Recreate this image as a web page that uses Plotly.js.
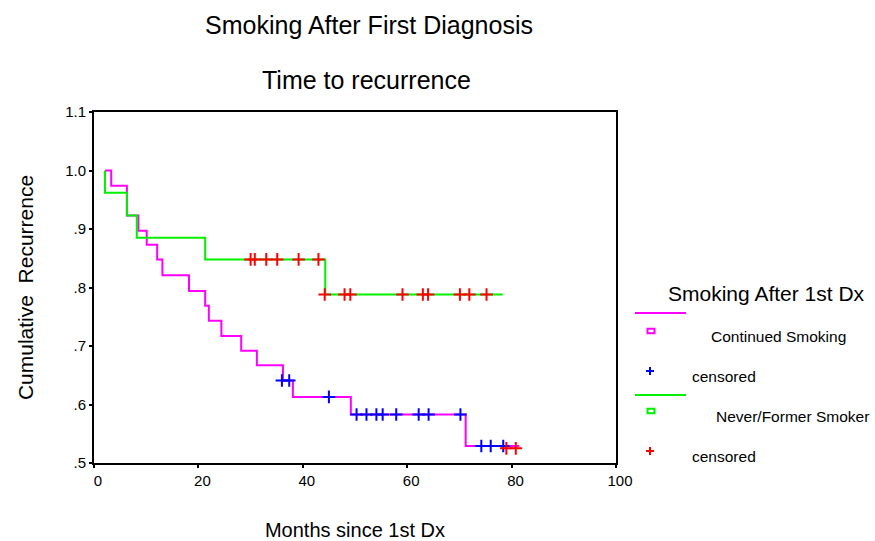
<!DOCTYPE html>
<html><head><meta charset="utf-8">
<script src="https://cdn.plot.ly/plotly-3.0.1.min.js"></script>
<style>html,body{margin:0;padding:0;background:#fff;} #chart{width:875px;height:541px;}</style>
</head><body><div id="chart"></div>
<script>
// Continued Smoking: Kaplan-Meier step curve (months, cumulative recurrence-free proportion)
const contMonths = [2.1, 3.3, 6.3, 8.5, 10.1, 12.1, 13.1, 18.2, 21.3, 22.0, 24.4, 28.2, 31.2, 36.2, 38.1, 49.2, 71.2, 81.5];
const contRecur  = [1.0, 0.974, 0.923, 0.897, 0.873, 0.848, 0.821, 0.794, 0.769, 0.743, 0.717, 0.692, 0.667, 0.641, 0.613, 0.583, 0.529, 0.529];
// Continued Smoking: censored cases
const contCensMonths = [36.0, 37.4, 45.0, 50.3, 52.2, 54.1, 55.3, 57.9, 62.2, 64.1, 70.2, 74.2, 76.0, 78.4];
const contCensRecur  = [0.641, 0.641, 0.613, 0.583, 0.583, 0.583, 0.583, 0.583, 0.583, 0.583, 0.583, 0.529, 0.529, 0.529];
// Never/Former Smoker: step curve
const neverMonths = [2.1, 2.1, 6.3, 8.2, 21.3, 44.3, 78.3];
const neverRecur  = [1.0, 0.962, 0.923, 0.885, 0.848, 0.788, 0.788];
// Never/Former Smoker: censored cases
const neverCensMonths = [30.0, 30.8, 33.0, 35.1, 39.2, 43.0, 44.2, 48.0, 49.1, 59.1, 63.0, 64.0, 70.1, 71.9, 75.2, 79.0, 80.8];
const neverCensRecur  = [0.848, 0.848, 0.848, 0.848, 0.848, 0.848, 0.788, 0.788, 0.788, 0.788, 0.788, 0.788, 0.788, 0.788, 0.788, 0.525, 0.525];

const xTickVals = [0, 20, 40, 60, 80, 100];
const xTickText = ['0', '20', '40', '60', '80', '100'];
const yTickVals = [0.5, 0.6, 0.7, 0.8, 0.9, 1.0, 1.1];
const yTickText = ['.5', '.6', '.7', '.8', '.9', '1.0', '1.1'];

const legendTitle = 'Smoking After 1st Dx';
const legendLabels = ['Continued Smoking', 'censored', 'Never/Former Smoker', 'censored'];

const MAGENTA = '#ff00ff', GREEN = '#00f000', BLUE = '#0000ff', RED = '#ff0000';
const FONT = 'Liberation Sans, Arial, sans-serif';

// plot area geometry (px)
const L = 94, T = 112, W = 522, H = 351, R = 875 - L - W, B = 541 - T - H;
const px = x => (x - L) / W;
const py = y => (T + H - y) / H;

const traces = [
  {x: contMonths, y: contRecur, mode: 'lines', line: {color: MAGENTA, width: 2, shape: 'hv'}, showlegend: false, name: 'Continued Smoking'},
  {x: neverMonths, y: neverRecur, mode: 'lines', line: {color: GREEN, width: 2, shape: 'hv'}, showlegend: false, name: 'Never/Former Smoker'},
  {x: contCensMonths, y: contCensRecur, mode: 'markers', marker: {symbol: 'cross-thin-open', size: 9, line: {color: BLUE, width: 2}, color: BLUE}, showlegend: false, name: 'censored', cliponaxis: false},
  {x: neverCensMonths, y: neverCensRecur, mode: 'markers', marker: {symbol: 'cross-thin-open', size: 9, line: {color: RED, width: 2}, color: RED}, showlegend: false, name: 'censored', cliponaxis: false}
];

// custom legend (SPSS style)
const shapes = [];
const annotations = [];
function legLine(y, color) {
  shapes.push({type: 'line', xref: 'paper', yref: 'paper', x0: px(635), x1: px(686), y0: py(y), y1: py(y), line: {color: color, width: 2}});
}
function legSquare(cx, cy, color) {
  shapes.push({type: 'rect', xref: 'paper', yref: 'paper', x0: px(cx - 3.5), x1: px(cx + 3.5), y0: py(cy - 2.3), y1: py(cy + 2.3), line: {color: color, width: 2}});
}
function legPlus(cx, cy, color) {
  shapes.push({type: 'line', xref: 'paper', yref: 'paper', x0: px(cx - 4), x1: px(cx + 4), y0: py(cy), y1: py(cy), line: {color: color, width: 2}});
  shapes.push({type: 'line', xref: 'paper', yref: 'paper', x0: px(cx), x1: px(cx), y0: py(cy - 4), y1: py(cy + 4), line: {color: color, width: 2}});
}
function legText(text, x, y, size) {
  annotations.push({text: text, xref: 'paper', yref: 'paper', x: px(x), y: py(y), xanchor: 'left', yanchor: 'middle', showarrow: false, font: {family: FONT, size: size, color: '#000'}});
}
legText(legendTitle, 666, 293, 21);
legLine(313, MAGENTA);
legSquare(651, 331, MAGENTA);
legText(legendLabels[0], 709, 336, 15.5);
legPlus(650, 371, BLUE);
legText(legendLabels[1], 690, 376, 15.5);
legLine(395, GREEN);
legSquare(651, 411, GREEN);
legText(legendLabels[2], 714, 416, 15.5);
legPlus(650, 451, RED);
legText(legendLabels[3], 690, 456, 15.5);

// second title line
annotations.push({text: 'Time to recurrence', xref: 'paper', yref: 'paper', x: px(366), y: py(80), xanchor: 'center', yanchor: 'middle', showarrow: false, font: {family: FONT, size: 25, color: '#000'}});

const axisCommon = {showgrid: false, zeroline: false, showline: true, mirror: true, linecolor: '#000', linewidth: 2,
  ticks: 'outside', ticklen: 3, tickwidth: 2, tickcolor: '#000', tickfont: {family: FONT, size: 15, color: '#000'}, fixedrange: true};

const layout = {
  width: 875, height: 541,
  margin: {l: L, r: R, t: T, b: B, pad: 0},
  paper_bgcolor: '#fff', plot_bgcolor: '#fff',
  font: {family: FONT, color: '#000'},
  title: {text: 'Smoking After First Diagnosis', x: 369 / 875, xref: 'container', xanchor: 'center', y: 1 - 25 / 541, yref: 'container', yanchor: 'middle', font: {family: FONT, size: 25, color: '#000'}},
  xaxis: Object.assign({}, axisCommon, {range: [0, 100], tickvals: xTickVals, ticktext: xTickText, ticklabelshift: 4,
    title: {text: 'Months since 1st Dx', font: {family: FONT, size: 20, color: '#000'}, standoff: 36}}),
  yaxis: Object.assign({}, axisCommon, {range: [0.5, 1.1], tickvals: yTickVals, ticktext: yTickText,
    title: {text: 'Cumulative\u00a0 Recurrence', font: {family: FONT, size: 21, color: '#000'}, standoff: 26}}),
  shapes: shapes,
  annotations: annotations,
  showlegend: false
};

Plotly.newPlot('chart', traces, layout, {staticPlot: true, displayModeBar: false});
</script>
</body></html>
